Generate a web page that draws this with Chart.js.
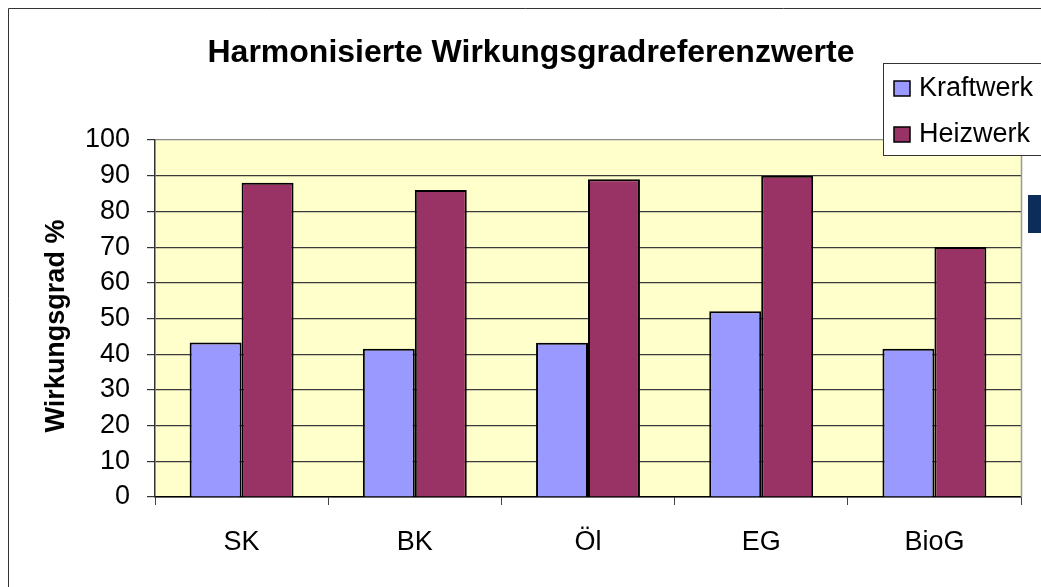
<!DOCTYPE html>
<html>
<head>
<meta charset="utf-8">
<title>Harmonisierte Wirkungsgradreferenzwerte</title>
<script src="https://cdn.jsdelivr.net/npm/chart.js@4/dist/chart.umd.min.js"></script>
<style>
    html, body { margin: 0; padding: 0; background: #fff; }
    #wrap { width: 1041px; height: 587px; }
</style>
</head>
<body>
<div id="wrap"><canvas id="chart" width="1041" height="587"></canvas></div>
<script>
// Data
const categories = ['SK', 'BK', 'Öl', 'EG', 'BioG'];
const seriesNames = ['Kraftwerk', 'Heizwerk'];
const kraftwerk = [43.3, 41.5, 43.2, 52, 41.5];
const heizwerk = [88, 86, 89, 90, 70];
const yTicks = [0, 10, 20, 30, 40, 50, 60, 70, 80, 90, 100];

const chartTitle = 'Harmonisierte Wirkungsgradreferenzwerte';
const yTitle = 'Wirkungsgrad %';

const FONT = '"Liberation Sans", Arial, sans-serif';

// Background, frame, title, legend (legend sits on top of the plot box)
const decorations = {
    id: 'decorations',
    beforeDraw(chart) {
        const { ctx, chartArea: a } = chart;
        ctx.save();
        ctx.fillStyle = '#ffffff';
        ctx.fillRect(0, 0, chart.width, chart.height);
        ctx.fillStyle = '#FFFFCC';
        ctx.fillRect(a.left, a.top, a.right - a.left, a.bottom - a.top);
        ctx.restore();
    },
    afterDraw(chart) {
        const { ctx, chartArea: a } = chart;
        ctx.save();

        // outer frame (runs off the right and bottom edge)
        ctx.strokeStyle = '#333';
        ctx.lineWidth = 1;
        ctx.beginPath();
        ctx.moveTo(8.5, chart.height + 5);
        ctx.lineTo(8.5, 8.5);
        ctx.lineTo(chart.width + 5, 8.5);
        ctx.stroke();

        // right edge of plot box
        ctx.strokeStyle = '#999';
        ctx.lineWidth = 1.5;
        ctx.beginPath();
        ctx.moveTo(a.right + 0.5, a.top);
        ctx.lineTo(a.right + 0.5, a.bottom);
        ctx.stroke();

        // chart title
        ctx.fillStyle = '#000';
        ctx.font = 'bold 32px ' + FONT;
        ctx.textAlign = 'center';
        ctx.textBaseline = 'alphabetic';
        ctx.fillText(chartTitle, 531, 62);

        // y axis title
        ctx.save();
        ctx.translate(57, 326);
        ctx.rotate(-Math.PI / 2);
        ctx.font = 'bold 27px ' + FONT;
        ctx.textBaseline = 'middle';
        ctx.fillText(yTitle, 0, 0);
        ctx.restore();

        // legend box
        ctx.fillStyle = '#fff';
        ctx.fillRect(883, 63, 200, 92);
        ctx.strokeStyle = '#333';
        ctx.lineWidth = 1;
        ctx.strokeRect(883.5, 63.5, 200, 92);

        ctx.font = '27px ' + FONT;
        ctx.textAlign = 'left';
        chart.data.datasets.forEach((ds, i) => {
            const baseline = 96 + i * 46;
            ctx.fillStyle = ds.backgroundColor;
            ctx.fillRect(894, baseline - 15, 16, 15);
            ctx.strokeStyle = '#000';
            ctx.lineWidth = 1.5;
            ctx.strokeRect(894, baseline - 15, 16, 15);
            ctx.fillStyle = '#000';
            ctx.fillText(ds.label, 919, baseline);
        });

        // stray dark block at the right edge
        ctx.fillStyle = '#0C2D5A';
        ctx.fillRect(1028, 195, 20, 38);

        ctx.restore();
    }
};

function buildChart() {
    const ctx = document.getElementById('chart').getContext('2d');
    return new Chart(ctx, {
        type: 'bar',
        data: {
            labels: categories,
            datasets: [
                {
                    label: seriesNames[0],
                    data: kraftwerk,
                    backgroundColor: '#9999FF',
                    borderColor: '#000',
                    borderWidth: 2,
                    borderSkipped: 'bottom'
                },
                {
                    label: seriesNames[1],
                    data: heizwerk,
                    backgroundColor: '#993366',
                    borderColor: '#000',
                    borderWidth: 2,
                    borderSkipped: 'bottom'
                }
            ]
        },
        options: {
            responsive: false,
            animation: false,
            devicePixelRatio: 1,
            layout: { padding: { top: 140, right: 20, left: 0, bottom: 0 } },
            datasets: {
                bar: { categoryPercentage: 0.6, barPercentage: 1 }
            },
            plugins: {
                legend: { display: false },
                title: { display: false },
                tooltip: { enabled: false }
            },
            scales: {
                x: {
                    offset: true,
                    afterFit: (scale) => { scale.height = 90; },
                    grid: {
                        offset: true,
                        drawOnChartArea: false,
                        tickLength: 8,
                        tickColor: '#444'
                    },
                    border: { color: '#000', width: 1.5 },
                    ticks: {
                        color: '#000',
                        padding: 21,
                        font: { family: FONT, size: 27 }
                    }
                },
                y: {
                    min: 0,
                    max: 100,
                    afterFit: (scale) => { scale.width = 155; },
                    afterBuildTicks: (scale) => {
                        scale.ticks = yTicks.map(v => ({ value: v }));
                    },
                    grid: {
                        color: (c) => (c.tick && c.tick.value === 100 ? '#8a8a8a' : '#3a3a3a'),
                        lineWidth: 1.2,
                        tickLength: 8,
                        tickColor: '#333'
                    },
                    border: { color: '#333', width: 1.5 },
                    ticks: {
                        color: '#000',
                        padding: 17,
                        font: { family: FONT, size: 27 }
                    }
                }
            }
        },
        plugins: [decorations]
    });
}

window.addEventListener('load', () => {
    buildChart();
});
</script>
</body>
</html>
